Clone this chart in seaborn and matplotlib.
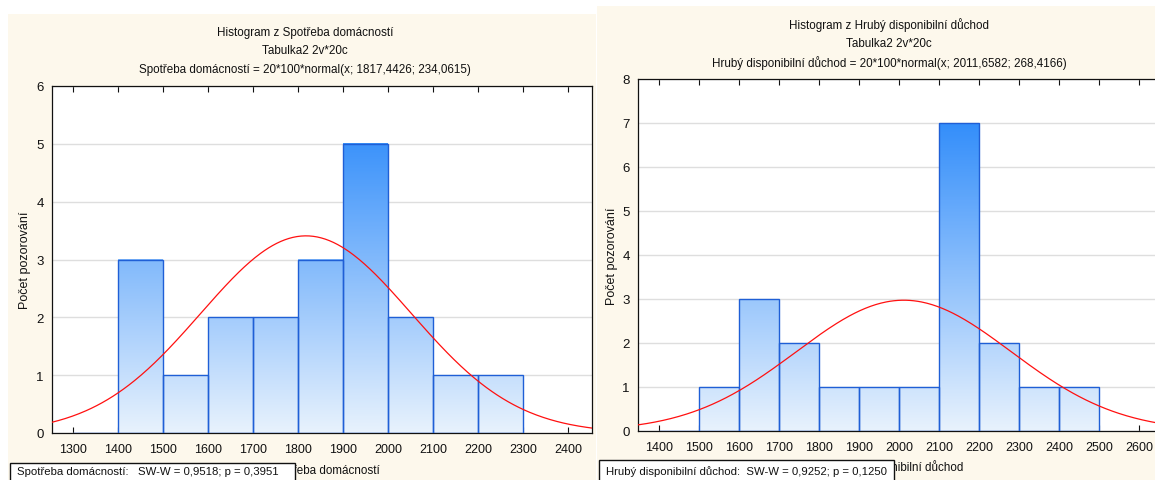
import numpy as np
import matplotlib
matplotlib.use("Agg")
import matplotlib.pyplot as plt
import seaborn as sns
from matplotlib.colors import LinearSegmentedColormap
from matplotlib.patches import Rectangle

# ---------------- data ----------------
edges_left = [1300, 1400, 1500, 1600, 1700, 1800, 1900, 2000, 2100, 2200, 2300]
counts_left = [0, 3, 1, 2, 2, 3, 5, 2, 1, 1]
mu_left, sd_left = 1817.4426, 234.0615
n_left = 20

edges_right = [1400, 1500, 1600, 1700, 1800, 1900, 2000, 2100, 2200, 2300, 2400, 2500]
counts_right = [0, 1, 3, 2, 1, 1, 1, 7, 2, 1, 1]
mu_right, sd_right = 2011.6582, 268.4166
n_right = 20

xticks_left = [1300, 1400, 1500, 1600, 1700, 1800, 1900, 2000, 2100, 2200, 2300, 2400]
xticks_right = [1400, 1500, 1600, 1700, 1800, 1900, 2000, 2100, 2200, 2300, 2400, 2500, 2600]

var_left = "Spotřeba domácností"
var_right = "Hrubý disponibilní důchod"
titles_left = ["Histogram z Spotřeba domácností", "Tabulka2 2v*20c",
               "Spotřeba domácností = 20*100*normal(x; 1817,4426; 234,0615)"]
titles_right = ["Histogram z Hrubý disponibilní důchod", "Tabulka2 2v*20c",
                "Hrubý disponibilní důchod = 20*100*normal(x; 2011,6582; 268,4166)"]
sw_left = "Spotřeba domácností:   SW-W = 0,9518; p = 0,3951"
sw_right = "Hrubý disponibilní důchod:  SW-W = 0,9252; p = 0,1250"
ylabel = "Počet pozorování"

# ---------------- style ----------------
sns.set_theme(style="white")
plt.rcParams["font.family"] = ["Liberation Sans", "DejaVu Sans"]
W, H = 1155, 481
fig = plt.figure(figsize=(W / 100, H / 100), dpi=100)
fig.patch.set_facecolor("white")

CREAM = "#fdf8ec"
cmap = LinearSegmentedColormap.from_list("bargrad", ["#e8f2fd", "#1a80fa"])
EDGE = "#1f5fd6"
TXT = "#111111"


def px(x0, y0, x1, y1):
    """pixel box (top-left origin) -> figure fraction rect"""
    return [x0 / W, 1 - y1 / H, (x1 - x0) / W, (y1 - y0) / H]


# cream panels (behind the axes)
for (x0, y0, x1, y1) in [(8, 15, 596, 490), (597, 7, 1160, 490)]:
    r = px(x0, y0, x1, y1)
    fig.patches.append(Rectangle((r[0], r[1]), r[2], r[3], transform=fig.transFigure,
                                 facecolor=CREAM, edgecolor="none", zorder=-5))


def draw(ax, edges, counts, mu, sd, n, xlim, ymax, xticks):
    centers = [(a + b) / 2 for a, b in zip(edges[:-1], edges[1:])]
    sns.histplot(x=centers, weights=counts, bins=edges, ax=ax, stat="count",
                 color="#80b8fa", edgecolor=EDGE, linewidth=1.0, alpha=1, zorder=3)
    ax.set_facecolor("white")
    for p in list(ax.patches):
        x, w, h = p.get_x(), p.get_width(), p.get_height()
        if h > 0:
            grad = np.linspace(0, h / ymax, 256).reshape(-1, 1)
            ax.imshow(grad, extent=(x, x + w, 0, h), origin="lower", aspect="auto",
                      cmap=cmap, vmin=0, vmax=1, zorder=2, interpolation="bilinear")
            p.set_facecolor("none")
        p.set_zorder(3)
    binw = edges[1] - edges[0]
    xs = np.linspace(xlim[0], xlim[1], 400)
    ys = n * binw * np.exp(-0.5 * ((xs - mu) / sd) ** 2) / (sd * np.sqrt(2 * np.pi))
    sns.lineplot(x=xs, y=ys, ax=ax, color="#ff1010", linewidth=0.9, zorder=4)
    ax.set_xlim(*xlim)
    ax.set_ylim(0, ymax)
    ax.set_xticks(xticks)
    ax.set_yticks(range(0, ymax + 1))
    ax.yaxis.grid(True, color="#dedede", linewidth=1.0, zorder=1)
    ax.set_axisbelow(True)
    ax.tick_params(axis="x", direction="in", top=True, bottom=True, length=4, width=0.8,
                   labelsize=9, pad=7, colors=TXT)
    ax.tick_params(axis="y", direction="in", left=True, length=0, labelsize=9.5, pad=6,
                   colors=TXT)
    for s in ax.spines.values():
        s.set_color(TXT)
        s.set_linewidth(0.9)
    ax.set_xlabel("")
    ax.set_ylabel("")


axL = fig.add_axes(px(52, 87, 592, 434))
draw(axL, edges_left, counts_left, mu_left, sd_left, n_left, (1253, 2453), 6, xticks_left)
axR = fig.add_axes(px(638, 80, 1162, 432))
draw(axR, edges_right, counts_right, mu_right, sd_right, n_right, (1347.5, 2657), 8, xticks_right)
axR.spines["right"].set_visible(False)

# titles
for cx, ys, lines in [(305, (33, 51, 70), titles_left), (889, (25, 44, 63), titles_right)]:
    for y, t in zip(ys, lines):
        fig.text(cx / W, 1 - y / H, t, ha="center", va="center", fontsize=8.4, color=TXT)

# y labels
fig.text(25 / W, 1 - 260 / H, ylabel, rotation=90, ha="center", va="center", fontsize=9, color=TXT)
fig.text(612 / W, 1 - 256 / H, ylabel, rotation=90, ha="center", va="center", fontsize=9, color=TXT)

# x labels (partly hidden by the SW-W boxes, as in the original)
fig.text(324 / W, 1 - 471 / H, var_left, ha="center", va="center", fontsize=8.4, color=TXT, zorder=2)
fig.text(896 / W, 1 - 467 / H, var_right, ha="center", va="center", fontsize=8.4, color=TXT, zorder=2)

# SW-W boxes
for (x0, y0, x1, y1), t in [((10, 464, 295, 495), sw_left), ((599, 461, 894, 495), sw_right)]:
    r = px(x0, y0, x1, y1)
    fig.patches.append(Rectangle((r[0], r[1]), r[2], r[3], transform=fig.transFigure,
                                 facecolor="white", edgecolor=TXT, linewidth=1.0, zorder=5))
    fig.text((x0 + 7) / W, 1 - 472 / H, t, ha="left", va="center", fontsize=8.2,
             color=TXT, zorder=6)

fig.savefig("out.png", dpi=100)
